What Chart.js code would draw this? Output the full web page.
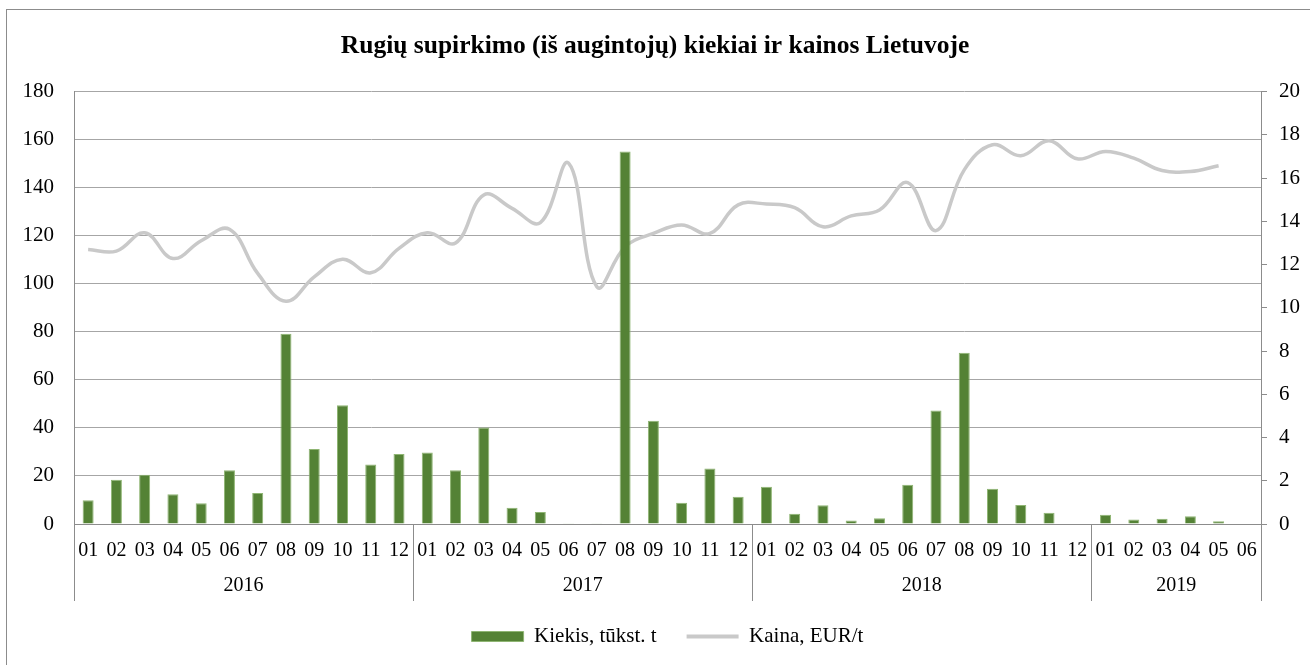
<!DOCTYPE html>
<html>
<head>
<meta charset="utf-8">
<script src="https://cdn.jsdelivr.net/npm/chart.js@4/dist/chart.umd.min.js"></script>
<style>
    html, body { margin: 0; padding: 0; background: #fff; overflow: hidden; }
    #frame { position: absolute; left: 6px; top: 9px; width: 1400px; height: 800px; border: 1px solid #8c8c8c; }
    #chart { position: absolute; left: 0; top: 0; }
</style>
</head>
<body>
<div id="frame"></div>
<canvas id="chart" width="1310" height="665"></canvas>
<script>
var months = [
    '01', '02', '03', '04', '05', '06', '07', '08', '09', '10', '11', '12',
    '01', '02', '03', '04', '05', '06', '07', '08', '09', '10', '11', '12',
    '01', '02', '03', '04', '05', '06', '07', '08', '09', '10', '11', '12',
    '01', '02', '03', '04', '05', '06'
];
var years = ['2016', '2017', '2018', '2019'];
var yearSpans = [12, 12, 12, 6];

// Kiekis, tūkst. t (left axis)
var kiekis = [
    9.9, 18.4, 20.5, 12.4, 8.6, 22.4, 12.9, 79.2, 31.2, 49.4, 24.8, 29.1,
    29.8, 22.4, 40.2, 6.8, 5.0, 0.3, 0.3, 155.1, 43.0, 8.8, 23.1, 11.3,
    15.5, 4.3, 7.8, 1.5, 2.4, 16.3, 47.2, 71.3, 14.7, 7.9, 4.7, 0,
    3.9, 1.9, 2.2, 3.2, 1.1, null
];

// Kaina, EUR/t (right axis)
var kaina = [
    12.7, 12.62, 13.47, 12.28, 13.1, 13.63, 11.59, 10.3, 11.43, 12.25, 11.62, 12.75,
    13.47, 13.0, 15.22, 14.6, 13.94, 16.69, 10.97, 12.82, 13.44, 13.83, 13.44, 14.76,
    14.8, 14.63, 13.75, 14.25, 14.52, 15.79, 13.57, 16.38, 17.54, 17.03, 17.73, 16.89,
    17.23, 16.92, 16.35, 16.3, 16.57, null
];

var leftAxis = { min: 0, max: 180, step: 20 },
    rightAxis = { min: 0, max: 20, step: 2 };

var serif = '"Liberation Serif", "Times New Roman", serif',
    axisGrey = '#8c8c8c';

// second row of the category axis: years and the separators between them
var yearRow = {
    id: 'yearRow',
    afterDraw: function (chart) {
        var ctx = chart.ctx,
            xs = chart.scales.x,
            top = chart.chartArea.bottom,
            bottom = top + 77,
            half = (xs.getPixelForValue(1) - xs.getPixelForValue(0)) / 2,
            start = 0;

        ctx.save();
        ctx.strokeStyle = axisGrey;
        ctx.lineWidth = 1;
        ctx.fillStyle = '#000';
        ctx.font = '20px ' + serif;
        ctx.textAlign = 'center';
        ctx.textBaseline = 'middle';

        var edge = function (px) {
            px = Math.round(px) + 0.5;
            ctx.beginPath();
            ctx.moveTo(px, top);
            ctx.lineTo(px, bottom);
            ctx.stroke();
        };

        edge(xs.getPixelForValue(0) - half);
        years.forEach(function (y, i) {
            var end = start + yearSpans[i],
                x0 = xs.getPixelForValue(start) - half,
                x1 = xs.getPixelForValue(end - 1) + half;
            edge(x1);
            ctx.fillText(y, (x0 + x1) / 2, top + 62);
            start = end;
        });
        ctx.restore();
    }
};

new Chart(document.getElementById('chart'), {
    data: {
        labels: months,
        datasets: [{
            type: 'bar',
            label: 'Kiekis, tūkst. t',
            data: kiekis,
            yAxisID: 'y',
            backgroundColor: '#548235',
            borderColor: '#8fb573',
            borderWidth: 1,
            categoryPercentage: 1,
            barPercentage: 0.39
        }, {
            type: 'line',
            label: 'Kaina, EUR/t',
            data: kaina,
            yAxisID: 'y1',
            borderColor: '#c9c9c9',
            backgroundColor: '#c9c9c9',
            borderWidth: 3.5,
            pointRadius: 0,
            tension: 0.4,
            fill: false
        }]
    },
    plugins: [yearRow],
    options: {
        responsive: false,
        animation: false,
        layout: { padding: { top: 0, left: 0, right: 0, bottom: 8 } },
        plugins: {
            title: {
                display: true,
                text: 'Rugių supirkimo (iš augintojų) kiekiai ir kainos Lietuvoje',
                color: '#000',
                font: { family: serif, size: 25.5, weight: 'bold' },
                padding: { top: 31, bottom: 30 }
            },
            legend: {
                position: 'bottom',
                fullSize: false,
                labels: {
                    color: '#000',
                    font: { family: serif, size: 21 },
                    usePointStyle: true,
                    pointStyleWidth: 52,
                    boxHeight: 10,
                    padding: 30,
                    generateLabels: function (chart) {
                        var items = Chart.defaults.plugins.legend.labels.generateLabels(chart);
                        items[0].pointStyle = 'rect';
                        items[1].pointStyle = 'line';
                        items[1].lineWidth = 4;
                        return items;
                    }
                }
            },
            tooltip: { enabled: false }
        },
        scales: {
            x: {
                grid: { display: false },
                border: { color: axisGrey },
                ticks: {
                    color: '#000',
                    font: { family: serif, size: 20 },
                    padding: 7,
                    maxRotation: 0,
                    autoSkip: false
                },
                afterFit: function (scale) { scale.height = 72; }
            },
            y: {
                position: 'left',
                min: leftAxis.min,
                max: leftAxis.max,
                grid: { color: '#a6a6a6', drawTicks: false },
                border: { color: axisGrey },
                ticks: {
                    stepSize: leftAxis.step,
                    color: '#000',
                    font: { family: serif, size: 21 },
                    padding: 20
                },
                afterFit: function (scale) { scale.width = 74; }
            },
            y1: {
                position: 'right',
                min: rightAxis.min,
                max: rightAxis.max,
                grid: { drawOnChartArea: false, color: axisGrey, tickLength: 6 },
                border: { color: axisGrey },
                ticks: {
                    stepSize: rightAxis.step,
                    color: '#000',
                    font: { family: serif, size: 21 },
                    padding: 12
                },
                afterFit: function (scale) { scale.width = 49; }
            }
        }
    }
});
</script>
</body>
</html>
